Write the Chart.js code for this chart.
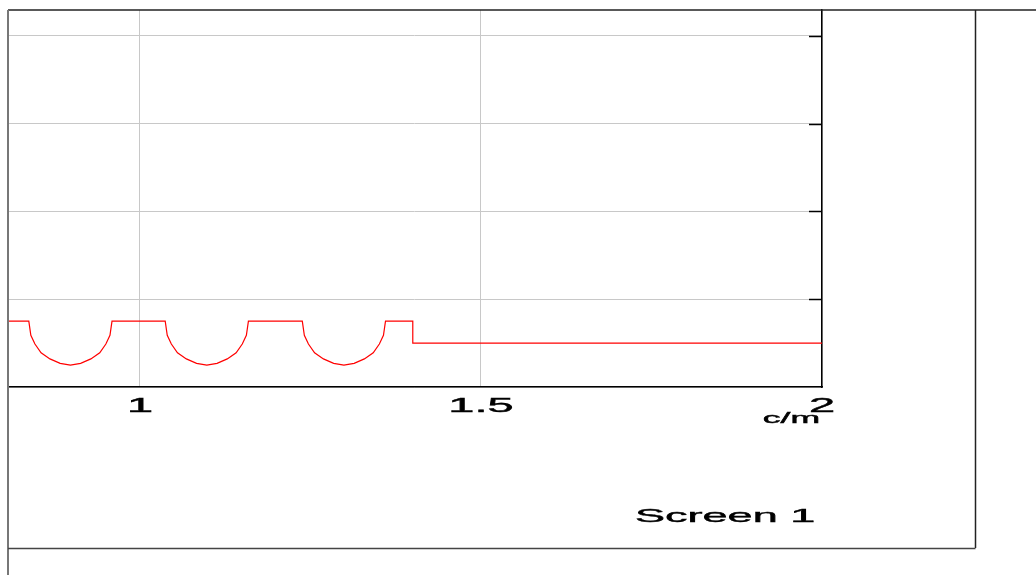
<!DOCTYPE html>
<html>
<head>
<meta charset="utf-8">
<title>Screen 1</title>
<script src="https://cdn.jsdelivr.net/npm/chart.js@4.4.1/dist/chart.umd.min.js"></script>
<style>
    html, body { margin: 0; padding: 0; background: #ffffff; }
    #wrap { width: 1036px; height: 575px; position: relative; }
</style>
</head>
<body>
<div id="wrap"><canvas id="screenChart"></canvas></div>
<script>
// Screen 1 profile trace
// x positions (c/m) and levels
const xValues = [
    0.8065, 0.837,
    0.840, 0.846, 0.855, 0.868, 0.883, 0.898, 0.913, 0.928, 0.941, 0.950, 0.956, 0.959,
    1.037,
    1.040, 1.046, 1.055, 1.068, 1.083, 1.098, 1.113, 1.128, 1.141, 1.150, 1.156, 1.159,
    1.238,
    1.241, 1.247, 1.256, 1.269, 1.284, 1.299, 1.314, 1.329, 1.342, 1.351, 1.357, 1.360,
    1.400, 1.400, 2.000
];
const yValues = [
    0.75, 0.75,
    0.59, 0.49, 0.39, 0.32, 0.27, 0.25, 0.27, 0.32, 0.39, 0.49, 0.59, 0.75,
    0.75,
    0.59, 0.49, 0.39, 0.32, 0.27, 0.25, 0.27, 0.32, 0.39, 0.49, 0.59, 0.75,
    0.75,
    0.59, 0.49, 0.39, 0.32, 0.27, 0.25, 0.27, 0.32, 0.39, 0.49, 0.59, 0.75,
    0.75, 0.50, 0.50
];

// axis ticks
const xTicks = [1, 1.5, 2];
const xTickLabels = ['1', '1.5', '2'];
const yTicks = [0, 1, 2, 3, 4];
const xUnit = 'c/m';
const screenLabel = 'Screen 1';

const FONT = '"Liberation Sans", Arial, Helvetica, sans-serif';

// draw text stretched wide like the original plot
function wideText(ctx, text, x, y, size, align, stretch) {
    ctx.save();
    ctx.font = size + 'px ' + FONT;
    ctx.fillStyle = '#000000';
    ctx.strokeStyle = '#000000';
    ctx.textBaseline = 'alphabetic';
    const w = ctx.measureText(text).width * stretch;
    let left = x;
    if (align === 'center') left = x - w / 2;
    if (align === 'right') left = x - w;
    ctx.translate(left, y);
    ctx.scale(stretch, 1);
    ctx.textAlign = 'left';
    ctx.fillText(text, 0, 0);
    // a little heavier, the original strokes are thick
    ctx.lineWidth = 0.45;
    ctx.strokeText(text, 0, 0);
    ctx.restore();
}

function line(ctx, x1, y1, x2, y2, color, width) {
    ctx.beginPath();
    ctx.strokeStyle = color;
    ctx.lineWidth = width;
    ctx.moveTo(x1, y1);
    ctx.lineTo(x2, y2);
    ctx.stroke();
}

// frame, inner tick marks and labels
const framePlugin = {
    id: 'frame',
    afterDraw(chart) {
        const ctx = chart.ctx;
        const area = chart.chartArea;
        const xs = chart.scales.x;
        const ys = chart.scales.y;
        ctx.save();
        // y ticks point inward from the right border
        yTicks.forEach(v => {
            if (v === 0) return;
            const py = Math.round(ys.getPixelForValue(v)) + 0.5;
            line(ctx, area.right - 13, py, area.right, py, '#000000', 1.5);
        });
        // outer frame
        line(ctx, area.left, area.top, chart.width, area.top, '#222222', 1.5);
        line(ctx, area.left, area.top, area.left, chart.height, '#777777', 2);
        line(ctx, 975.5, area.top, 975.5, 548, '#222222', 1.5);
        line(ctx, area.left, 548.5, 975.5, 548.5, '#444444', 1.5);
        // x tick labels
        xTicks.forEach((v, i) => {
            wideText(ctx, xTickLabels[i], xs.getPixelForValue(v), 412, 20, 'center', 2.35);
        });
        wideText(ctx, xUnit, area.right - 2, 423, 14.5, 'right', 2.45);
        wideText(ctx, screenLabel, 635, 522, 19, 'left', 2.37);
        ctx.restore();
    }
};

function initChart() {
    const ctx = document.getElementById('screenChart').getContext('2d');
    const points = xValues.map((x, i) => ({ x: x, y: yValues[i] }));

    new Chart(ctx, {
        type: 'scatter',
        data: {
            datasets: [{
                label: screenLabel,
                data: points,
                showLine: true,
                borderColor: '#ff0000',
                borderWidth: 1.2,
                pointRadius: 0,
                tension: 0,
                fill: false
            }]
        },
        options: {
            responsive: true,
            maintainAspectRatio: false,
            animation: false,
            layout: {
                padding: { left: 8, top: 10, right: 0, bottom: 0 }
            },
            scales: {
                x: {
                    type: 'linear',
                    position: 'bottom',
                    min: 0.8065,
                    max: 2.0,
                    afterBuildTicks: scale => { scale.ticks = xTicks.map(v => ({ value: v })); },
                    afterFit: scale => { scale.height = 188; },
                    ticks: { display: false },
                    grid: { color: '#c8c8c8', lineWidth: 1, drawTicks: false },
                    border: { color: '#000000', width: 1.5 }
                },
                y: {
                    type: 'linear',
                    position: 'right',
                    min: 0,
                    max: 4.296,
                    afterBuildTicks: scale => { scale.ticks = yTicks.map(v => ({ value: v })); },
                    afterFit: scale => { scale.width = 214; },
                    ticks: { display: false },
                    grid: { color: '#c8c8c8', lineWidth: 1, drawTicks: false },
                    border: { color: '#000000', width: 1.5 }
                }
            },
            plugins: {
                legend: { display: false },
                tooltip: { enabled: false }
            }
        },
        plugins: [framePlugin]
    });
}

initChart();
</script>
</body>
</html>
